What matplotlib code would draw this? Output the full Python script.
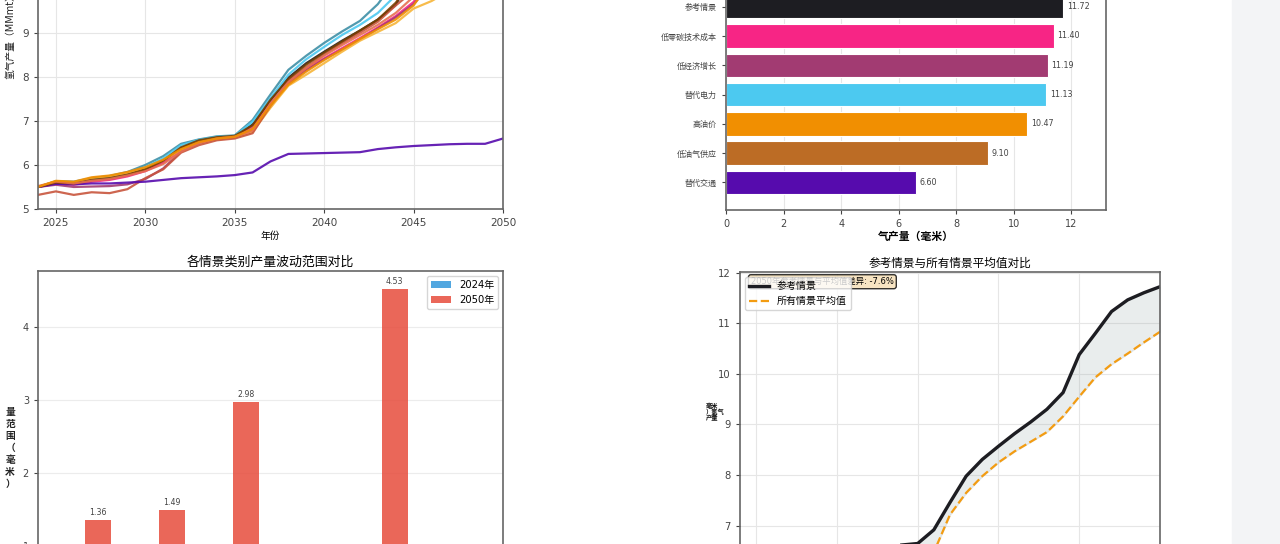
import numpy as np
import matplotlib
matplotlib.use("Agg")
import matplotlib.pyplot as plt

plt.rcParams['font.family'] = ['DejaVu Sans', 'Noto Sans CJK SC']
plt.rcParams['axes.unicode_minus'] = False

# ------------------------------------------------------------
# Data
# ------------------------------------------------------------
years = list(range(2024, 2051))

ref_case = [5.50, 5.60, 5.58, 5.65, 5.68, 5.76, 5.88, 6.08, 6.38, 6.55, 6.62, 6.65, 6.92, 7.46,
            7.98, 8.31, 8.57, 8.82, 9.05, 9.30, 9.63, 10.38, 10.80, 11.23, 11.46, 11.60, 11.72]
high_growth = [5.50, 5.63, 5.62, 5.70, 5.75, 5.84, 6.00, 6.20, 6.48, 6.58, 6.65, 6.67, 7.02, 7.60,
               8.16, 8.48, 8.77, 9.03, 9.27, 9.65, 10.20, 10.80, 11.20, 11.55, 11.75, 11.90, 12.00]
low_zc_cost = [5.50, 5.58, 5.55, 5.62, 5.66, 5.74, 5.86, 6.05, 6.34, 6.52, 6.60, 6.63, 6.85, 7.38,
               7.88, 8.18, 8.42, 8.65, 8.88, 9.12, 9.38, 9.70, 10.25, 10.70, 11.00, 11.25, 11.40]
low_growth = [5.50, 5.55, 5.50, 5.51, 5.52, 5.56, 5.68, 5.92, 6.30, 6.50, 6.60, 6.63, 6.80, 7.32,
              7.85, 8.15, 8.40, 8.62, 8.85, 9.10, 9.35, 9.65, 10.10, 10.50, 10.85, 11.05, 11.19]
alt_power = [5.50, 5.62, 5.60, 5.68, 5.72, 5.80, 5.95, 6.15, 6.45, 6.57, 6.64, 6.66, 6.98, 7.52,
             8.05, 8.40, 8.68, 8.95, 9.18, 9.45, 9.85, 10.30, 10.60, 10.85, 11.00, 11.08, 11.13]
high_oil = [5.50, 5.63, 5.60, 5.70, 5.74, 5.82, 5.92, 6.10, 6.35, 6.50, 6.58, 6.62, 6.75, 7.30,
            7.80, 8.05, 8.31, 8.57, 8.82, 9.02, 9.22, 9.55, 9.72, 9.95, 10.20, 10.35, 10.47]
low_og_supply = [5.32, 5.40, 5.32, 5.38, 5.36, 5.45, 5.70, 5.90, 6.28, 6.45, 6.56, 6.60, 6.72, 7.35,
                 7.90, 8.22, 8.50, 8.76, 9.00, 9.25, 9.62, 9.95, 10.30, 10.60, 10.90, 11.10, 11.25]
alt_transport = [5.50, 5.57, 5.56, 5.58, 5.58, 5.60, 5.62, 5.66, 5.70, 5.72, 5.74, 5.77, 5.83, 6.08,
                 6.25, 6.26, 6.27, 6.28, 6.29, 6.36, 6.40, 6.43, 6.45, 6.47, 6.48, 6.48, 6.60]
high_zc_cost = [5.50, 5.60, 5.58, 5.66, 5.70, 5.78, 5.90, 6.10, 6.40, 6.56, 6.63, 6.66, 6.90, 7.48,
                7.95, 8.28, 8.55, 8.80, 9.05, 9.30, 9.68, 10.20, 10.70, 11.10, 11.50, 11.75, 11.90]
low_oil = [5.52, 5.62, 5.58, 5.64, 5.68, 5.76, 5.86, 6.02, 6.30, 6.50, 6.60, 6.64, 6.78, 7.40,
           7.88, 8.20, 8.48, 8.72, 8.95, 9.18, 9.45, 9.82, 10.40, 10.90, 11.30, 11.60, 11.85]
high_og_supply = [5.50, 5.64, 5.62, 5.72, 5.76, 5.84, 5.95, 6.12, 6.36, 6.52, 6.60, 6.64, 6.82, 7.35,
                  7.82, 8.12, 8.38, 8.62, 8.86, 9.08, 9.30, 9.62, 10.20, 10.80, 11.30, 11.60, 11.78]

avg_all = [5.48, 5.56, 5.52, 5.58, 5.60, 5.66, 5.78, 5.95, 6.22, 6.36, 6.42, 6.45, 6.48, 7.22,
           7.65, 7.98, 8.25, 8.47, 8.66, 8.85, 9.16, 9.55, 9.93, 10.19, 10.40, 10.62, 10.83]

line_names = ['高经济增长', '参考情景', '低零碳技术成本', '低经济增长', '替代电力', '高油价',
              '低油气供应', '替代交通', '高零碳技术成本', '低油价', '高油气供应']
line_values = [high_growth, ref_case, low_zc_cost, low_growth, alt_power, high_oil,
               low_og_supply, alt_transport, high_zc_cost, low_oil, high_og_supply]
line_colors = ['#3E8FA6', '#1D1D22', '#F72585', '#A23B72', '#4CC9F0', '#F7B538',
               '#C8553D', '#560BAD', '#7B3F00', '#E76F51', '#F18F01']

# 2050 production, sorted ascending (top 4 bars are outside the crop)
bar_names = ['替代交通', '低油气供应', '高油价', '替代电力', '低经济增长', '低零碳技术成本',
             '参考情景', '高油气供应', '低油价', '高零碳技术成本', '高经济增长']
bar_values = [6.60, 9.10, 10.47, 11.13, 11.19, 11.40, 11.72, 11.78, 11.85, 11.90, 12.00]
bar_colors = ['#560BAD', '#BC6C25', '#F18F01', '#4CC9F0', '#A23B72', '#F72585',
              '#1D1D22', '#E76F51', '#7B3F00', '#3A0CA3', '#2E86AB']

# range by scenario group
groups = ['经济增长', '油价', '油气供应', '零碳技术成本', '替代方案', '参考']
range_2024 = [0.00, 0.02, 0.18, 0.00, 0.02, 0.00]
range_2050 = [1.36, 1.49, 2.98, 0.50, 4.53, 0.00]

diff_pct = -7.6

# ------------------------------------------------------------
# Figure
# ------------------------------------------------------------
W, H = 1280, 544
fig = plt.figure(figsize=(12.8, 5.44), dpi=100)
fig.patches.append(plt.Rectangle((1232 / W, 0), 1 - 1232 / W, 1, transform=fig.transFigure,
                                 color='#f3f4f6', zorder=0))


def px_axes(left, top, right, bottom):
    return fig.add_axes([left / W, 1 - bottom / H, (right - left) / W, (bottom - top) / H])


def style(ax, fs):
    for s in ax.spines.values():
        s.set_color('#666666')
        s.set_linewidth(1.2)
    ax.tick_params(labelsize=fs, colors='#444444', length=3, width=0.8)
    ax.grid(True, color='#e6e6e6', linewidth=0.8)
    ax.set_axisbelow(True)


# ------------------------------------------------------------
# Top left: lines
# ------------------------------------------------------------
ax1 = px_axes(38, -139, 503, 209)
style(ax1, 7.5)
for name, vals, c in zip(line_names, line_values, line_colors):
    ax1.plot(years, vals, color=c, lw=1.6, alpha=0.9, label=name)
ax1.set_xlim(2024, 2050)
ax1.set_ylim(5, 12.9)
ax1.set_xticks([2025, 2030, 2035, 2040, 2045, 2050])
ax1.set_xlabel('年份', fontsize=7, labelpad=2)
fig.text(10 / W, 1 - 35 / H, '氢气产量（MMmt）', rotation=90, fontsize=7,
         ha='center', va='center', color='#222222')

# ------------------------------------------------------------
# Top right: horizontal bars
# ------------------------------------------------------------
ax2 = px_axes(726, -138, 1106, 210)
style(ax2, 7)
ax2.grid(True, axis='x', color='#e6e6e6')
ax2.grid(False, axis='y')
ypos = np.arange(len(bar_names))
ax2.barh(ypos, bar_values, height=0.8, color=bar_colors, edgecolor='white', linewidth=0.8)
for y, v in zip(ypos, bar_values):
    ax2.text(v + 0.12, y, f'{v:.2f}', va='center', fontsize=5.8, color='#444444')
ax2.set_yticks(ypos)
ax2.set_yticklabels(bar_names, fontsize=5.8)
ax2.set_xlim(0, 13.2)
ax2.set_xlabel('气产量（毫米）', fontsize=7.8, fontweight='bold', labelpad=2)

# ------------------------------------------------------------
# Bottom left: range bars
# ------------------------------------------------------------
ax3 = px_axes(38, 271, 503, 619)
style(ax3, 7)
ax3.grid(True, axis='y', color='#ececec')
ax3.grid(False, axis='x')
x = np.arange(len(groups))
w = 0.35
ax3.bar(x - w / 2, range_2024, w, color='#3498DB', alpha=0.85, label='2024年')
ax3.bar(x + w / 2, range_2050, w, color='#E74C3C', alpha=0.85, label='2050年')
for xi, v in zip(x, range_2050):
    if v > 0:
        ax3.text(xi + w / 2, v + 0.04, f'{v:.2f}', ha='center', va='bottom', fontsize=5.7,
                 color='#444444')
ax3.set_ylim(0, max(range_2050) * 1.053)
ax3.set_xticks(x)
ax3.set_xticklabels(groups, fontsize=7)
ax3.set_title('各情景类别产量波动范围对比', fontsize=9.3, pad=4)
ax3.legend(loc='upper right', fontsize=7.2)
fig.text(10 / W, 1 - 448 / H, '量\n范\n围\n（\n毫\n米\n）', fontsize=7, fontweight='bold',
         ha='center', va='center', linespacing=1.25, color='#222222')

# ------------------------------------------------------------
# Bottom right: reference vs mean
# ------------------------------------------------------------
ax4 = px_axes(740, 272, 1160, 620)
style(ax4, 7.2)
ax4.plot(years, ref_case, color='#1D1D22', lw=2.4, label='参考情景')
ax4.plot(years, avg_all, color='#F39C12', lw=1.6, ls='--', label='所有情景平均值')
ax4.fill_between(years, ref_case, avg_all, color='#95a5a6', alpha=0.2)
ax4.set_xlim(2024, 2050)
ax4.set_ylim(5.14, 12.01)
ax4.set_xticks([2025, 2030, 2035, 2040, 2045, 2050])
ax4.set_title('参考情景与所有情景平均值对比', fontsize=8.4, pad=4)
ax4.text(0.026, 0.985, f'2050年参考情景与平均值差异: {diff_pct:.1f}%', transform=ax4.transAxes,
         fontsize=6.0, va='top', ha='left',
         bbox=dict(boxstyle='round,pad=0.3', facecolor='wheat', alpha=0.8))
leg = ax4.legend(loc='upper left', fontsize=7.2)
leg.set_zorder(10)
fig.text(706 / W, 1 - 412 / H, '毫米\n）氢气\n产量', fontsize=4.5, fontweight='bold',
         ha='left', va='center', linespacing=1.0, color='#111111')

fig.savefig('out.png', dpi=100)
